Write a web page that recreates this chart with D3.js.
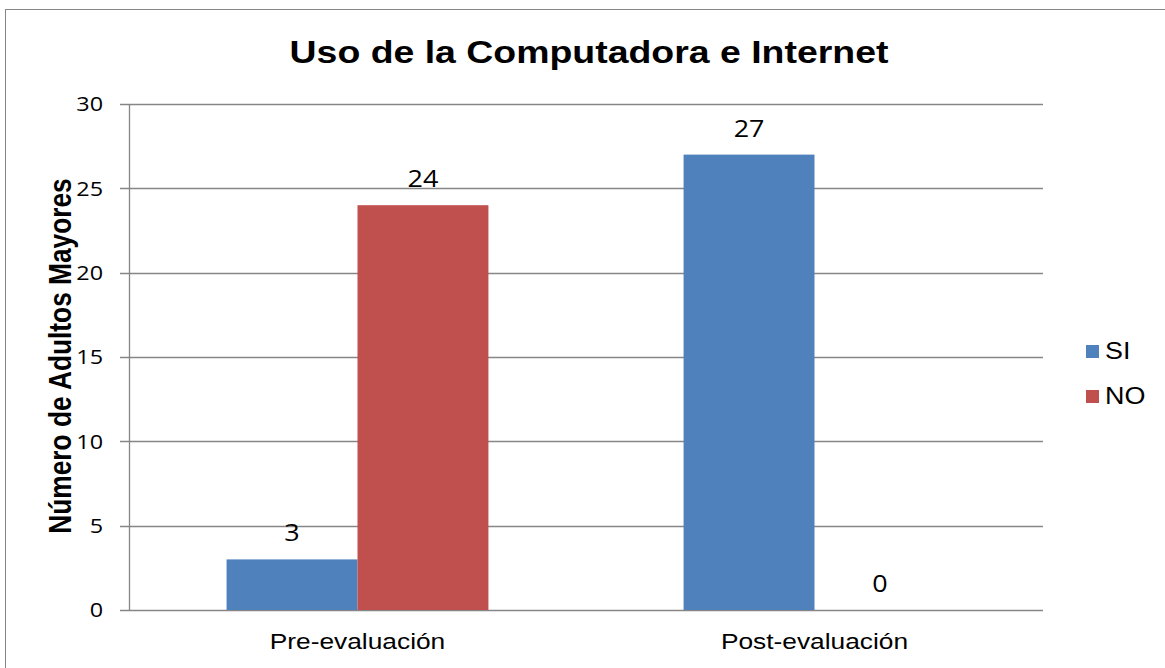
<!DOCTYPE html>
<html>
<head>
<meta charset="utf-8">
<script src="https://cdn.jsdelivr.net/npm/d3@7"></script>
<style>
  body { margin: 0; background: #fff; }
  text { fill: #000; }
</style>
</head>
<body>
<div id="chart"></div>
<script>
// data
var categories = ["Pre-evaluación", "Post-evaluación"];
var seriesNames = ["SI", "NO"];
var siValues = [3, 27];
var noValues = [24, 0];
var yTicks = [0, 5, 10, 15, 20, 25, 30];
var colors = ["#4F81BD", "#C0504D"];

var W = 1165, H = 668;
var plot = {left: 129, right: 1043, top: 104, bottom: 610};
var sx = 1.17; // picture is a bit wider than tall

var svg = d3.select("#chart").append("svg")
    .attr("width", W)
    .attr("height", H);

svg.append("rect")
    .attr("x", 5.5).attr("y", 9.5)
    .attr("width", W).attr("height", H)
    .attr("fill", "#fff")
    .attr("stroke", "#868686");

function label(x, y, str, opts) {
    var g = svg.append("g")
        .attr("transform", "translate(" + x + "," + y + ")" + (opts.rotate ? " rotate(-90) scale(1," + sx + ")" : " scale(" + sx + ",1)"));
    return g.append("text")
        .attr("text-anchor", opts.anchor || "middle")
        .attr("dy", opts.dy || 0)
        .style("font-family", opts.font || "'Liberation Sans', Arial, sans-serif")
        .style("font-size", opts.size + "px")
        .style("font-weight", opts.bold ? "bold" : "normal")
        .text(str);
}

var y = d3.scaleLinear().domain([0, 30]).range([plot.bottom, plot.top]);
var x0 = d3.scaleBand().domain(categories).range([plot.left, plot.right])
    .paddingInner(0.427).paddingOuter(0.2135);
var x1 = d3.scaleBand().domain(seriesNames).range([0, x0.bandwidth()]);

// gridlines + ticks
svg.append("g").selectAll("line")
    .data(yTicks)
    .enter().append("line")
    .attr("x1", plot.left - 9).attr("x2", plot.right)
    .attr("y1", function(d){ return Math.round(y(d)) + 0.5; })
    .attr("y2", function(d){ return Math.round(y(d)) + 0.5; })
    .attr("stroke", "#868686")
    .attr("stroke-width", 1.3);

yTicks.forEach(function(t){
    label(103, y(t), t, {anchor: "end", size: 20, dy: "0.36em", font: "'Open Sans', sans-serif"});
});

// bars
var data = categories.map(function(c, i){
    return {cat: c, vals: [{s: "SI", v: siValues[i]}, {s: "NO", v: noValues[i]}]};
});

var groups = svg.append("g").selectAll("g")
    .data(data)
    .enter().append("g")
    .attr("transform", function(d){ return "translate(" + x0(d.cat) + ",0)"; });

groups.selectAll("rect")
    .data(function(d){ return d.vals; })
    .enter().append("rect")
    .attr("x", function(d){ return x1(d.s); })
    .attr("width", x1.bandwidth())
    .attr("y", function(d){ return y(d.v); })
    .attr("height", function(d){ return y(0) - y(d.v); })
    .attr("fill", function(d, i){ return colors[i]; });

// value labels
data.forEach(function(d){
    d.vals.forEach(function(v){
        label(x0(d.cat) + x1(v.s) + x1.bandwidth() / 2, y(v.v) - 18, v.v,
            {size: 23, font: "'Open Sans', sans-serif"});
    });
});

// y axis line
svg.append("line")
    .attr("x1", plot.left + 0.5).attr("x2", plot.left + 0.5)
    .attr("y1", plot.top).attr("y2", plot.bottom)
    .attr("stroke", "#868686")
    .attr("stroke-width", 1.3);

// category labels
categories.forEach(function(c){
    label(x0(c) + x0.bandwidth() / 2, 649, c, {size: 22.5});
});

// title
label(589, 63, "Uso de la Computadora e Internet", {size: 32, bold: true});

// axis title
label(71, 356, "Número de Adultos Mayores", {size: 26.3, bold: true, rotate: true});

// legend
seriesNames.forEach(function(s, i){
    svg.append("rect")
        .attr("x", 1086).attr("y", 345 + i * 45)
        .attr("width", 13).attr("height", 13)
        .attr("fill", colors[i]);
    label(1105, 359 + i * 45, s, {anchor: "start", size: 23});
});
</script>
</body>
</html>
